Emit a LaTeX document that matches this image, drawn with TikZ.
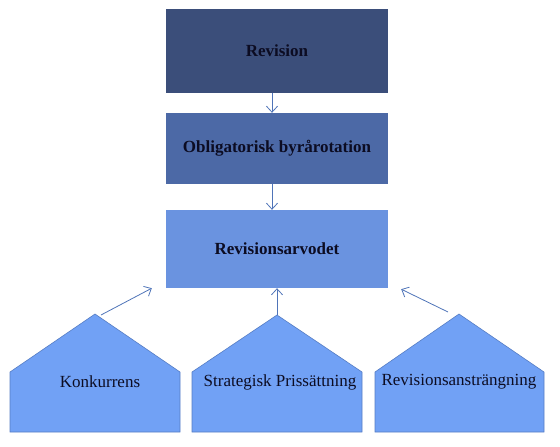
\documentclass[tikz,border=0pt]{standalone}
\usepackage{fontspec}
\setmainfont{Liberation Serif}
\usetikzlibrary{arrows.meta}
\definecolor{navy1}{HTML}{3B4E7A}
\definecolor{navy2}{HTML}{4C69A6}
\definecolor{blue3}{HTML}{6A93E0}
\definecolor{blue4}{HTML}{71A1F5}
\definecolor{edgeblue}{HTML}{4F74B8}
\definecolor{ink}{HTML}{0C0C22}
\begin{document}
\begin{tikzpicture}[x=1pt,y=-1pt]
\tikzstyle{b}=[rectangle, minimum width=222pt, inner sep=0pt, text=ink, font=\fontsize{17}{20}\selectfont\bfseries];
\tikzstyle{house}=[draw=edgeblue!80!blue4, fill=blue4, line width=0.6pt];
\tikzstyle{lbl}=[text=ink, inner sep=0pt, font=\fontsize{17}{20}\selectfont];
\tikzstyle{arr}=[draw=edgeblue, line width=0.8pt, -{Straight Barb[length=6pt,width=11pt]}];
\useasboundingbox (0,0) rectangle (560,447);
\node [b, fill=navy1, minimum height=84pt] (rev) at (277,51) {Revision};
\node [b, fill=navy2, minimum height=71pt] (obl) at (277,148.5) {Obligatorisk byrårotation};
\node [b, fill=blue3, minimum height=78pt] (arv) at (277,249) {Revisionsarvodet};
\draw [arr] ([xshift=-5pt]rev.south) -- ([xshift=-5pt]obl.north);
\draw [arr] ([xshift=-5pt]obl.south) -- ([xshift=-5pt]arv.north);
% the three houses
\draw [house] (10,432) -- (10,372) -- (95,314) coordinate (kon) -- (180,372) -- (180,432) -- cycle;
\draw [house] (192,432) -- (192,372) -- (277,315) coordinate (pris) -- (362,372) -- (362,432) -- cycle;
\draw [house] (375,432) -- (375,372) -- (459,314) coordinate (ans) -- (544,372) -- (544,432) -- cycle;
\node [lbl] (konl) at (100,382) {Konkurrens};
\node [lbl] (prisl) at (280,382) {Strategisk Prissättning};
\node [lbl] (ansl) at (459,382) {Revisionsansträngning};
\draw [arr] ([shift={(6pt,-1pt)}]kon) -- ([shift={(-14pt,0pt)}]arv.south west);
\draw [arr] (pris) -- (arv.south);
\draw [arr] ([shift={(-11pt,2pt)}]ans) -- ([shift={(13pt,-1pt)}]arv.south east);
\end{tikzpicture}
\end{document}
